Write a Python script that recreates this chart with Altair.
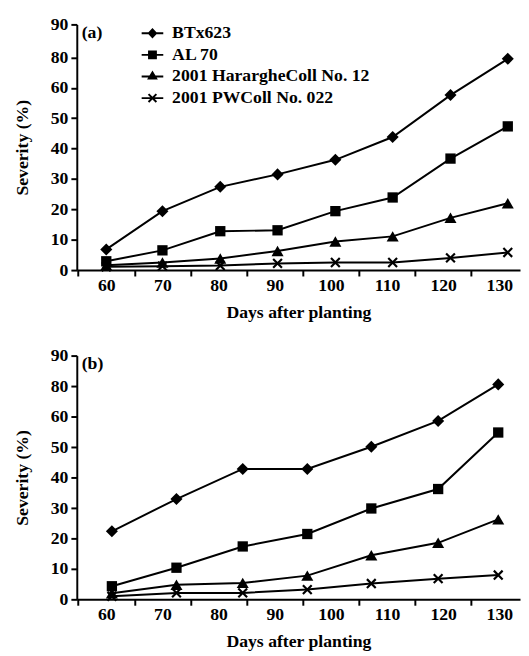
import altair as alt
import pandas as pd

# ---------------- data ----------------
series_names = ["BTx623", "AL 70", "2001 HarargheColl No. 12", "2001 PWColl No. 022"]

# panel (a)
days_a = [60, 70, 80.3, 90.5, 100.8, 111, 121.3, 131.5]
btx_a = [6.8, 19.4, 27.4, 31.5, 36.3, 43.8, 57.6, 79.0]
al_a = [2.9, 6.5, 12.8, 13.1, 19.4, 23.9, 36.7, 47.3]
har_a = [1.6, 2.5, 3.8, 6.3, 9.4, 11.1, 17.2, 22.0]
pw_a = [1.1, 1.3, 1.5, 2.2, 2.5, 2.5, 4.0, 5.8]

# panel (b)
days_b = [61, 72.5, 84.3, 95.8, 107.2, 119.1, 129.8]
btx_b = [22.4, 33.0, 42.9, 42.9, 50.2, 58.7, 80.7]
al_b = [4.3, 10.4, 17.4, 21.5, 29.9, 36.3, 54.9]
har_b = [2.0, 4.8, 5.4, 7.8, 14.5, 18.6, 26.3]
pw_b = [1.0, 2.1, 2.1, 3.2, 5.2, 6.8, 8.0]

x_labels = [60, 70, 80, 90, 100, 110, 120, 130]
y_labels = [0, 10, 20, 30, 40, 50, 60, 80, 90]


def make_df(days, vals_list):
    rows = []
    for name, vals in zip(series_names, vals_list):
        for d, v in zip(days, vals):
            rows.append({"series": name, "day": d, "severity": v})
    return pd.DataFrame(rows)


df_a = make_df(days_a, [btx_a, al_a, har_a, pw_a])
df_b = make_df(days_b, [btx_b, al_b, har_b, pw_b])

# ---------------- styling ----------------
FONT = "Liberation Serif"
W = 451
X_DOMAIN = [54.75, 133.68]
HALF = 5 * W / (X_DOMAIN[1] - X_DOMAIN[0])

point_shapes = ["diamond", "square", "triangle-up", "M-1,-1L1,1M-1,1L1,-1"]
point_sizes = [150, 110, 150, 80]

# legend glyphs: a short line with the marker on it (all filled paths)
LINE = "M-2.2,-0.2H2.2V0.2H-2.2Z"
legend_paths = [
    LINE + "M0,-1.05L1,0L0,1.05L-1,0Z",
    LINE + "M-0.9,-0.9H0.9V0.9H-0.9Z",
    LINE + "M0,-1.2L1.1,0.6H-1.1Z",
    LINE
    + "M-0.659,-0.941L0.941,0.659L0.659,0.941L-0.941,-0.659Z"
    + "M-0.941,0.659L0.659,-0.941L0.941,-0.659L-0.659,0.941Z",
]


def panel(df, H, f60, f80, tag, show_legend):
    x = alt.X(
        "day:Q",
        scale=alt.Scale(domain=X_DOMAIN, nice=False, zero=False),
        axis=alt.Axis(
            values=x_labels,
            title="Days after planting",
            tickOffset=-HALF,
            labelOffset=HALF,
            labelPadding=1,
            titlePadding=9,
        ),
    )
    y = alt.Y(
        "severity:Q",
        scale=alt.Scale(
            domain=[0, 60, 80, 90],
            range=[H, H * (1 - f60), H * (1 - f80), 0],
            nice=False,
            zero=False,
        ),
        axis=alt.Axis(values=y_labels, title="Severity (%)", labelPadding=3, titlePadding=19),
    )
    base = alt.Chart(df)
    layers = [
        base.mark_line(color="black", strokeWidth=2).encode(x=x, y=y, detail="series:N")
    ]
    for name, shp, sz in zip(series_names, point_shapes, point_sizes):
        if shp.startswith("M"):
            m = dict(shape=shp, size=sz, filled=False, color="black", strokeWidth=2.2, opacity=1)
        else:
            m = dict(shape=shp, size=sz, filled=True, color="black", opacity=1)
        layers.append(
            base.transform_filter(alt.datum.series == name).mark_point(**m).encode(x=x, y=y)
        )
    layers.append(
        alt.Chart(pd.DataFrame({"t": [tag]}))
        .mark_text(font=FONT, fontSize=18, fontWeight="bold", align="left", baseline="middle", color="black")
        .encode(text="t:N", x=alt.value(5), y=alt.value(9))
    )
    if show_legend:
        layers.append(
            base.transform_filter("false")
            .mark_point(filled=True, color="black", opacity=1)
            .encode(
                x=x,
                y=y,
                shape=alt.Shape(
                    "series:N",
                    scale=alt.Scale(domain=series_names, range=legend_paths),
                    legend=alt.Legend(
                        title=None,
                        orient="none",
                        legendX=68,
                        legendY=0,
                        padding=0,
                        rowPadding=4,
                        labelOffset=11,
                        labelLimit=400,
                        labelFont=FONT,
                        labelFontSize=18,
                        labelFontWeight="bold",
                        labelColor="black",
                        symbolSize=100,
                        symbolFillColor="black",
                        symbolOpacity=1,
                    ),
                ),
            )
        )
    return alt.layer(*layers).properties(width=W, height=H)


chart = (
    alt.vconcat(
        panel(df_a, 250, 0.742, 0.866, "(a)", True),
        panel(df_b, 248, 0.748, 0.873, "(b)", False),
        spacing=24,
    )
    .properties(padding={"left": 5, "top": 1, "right": 0, "bottom": 0})
    .configure_view(stroke="transparent")
    .configure_axis(
        grid=False,
        domainColor="black",
        domainWidth=2,
        tickColor="black",
        tickWidth=2,
        tickSize=6,
        labelFont=FONT,
        labelFontSize=18,
        labelFontWeight="bold",
        labelColor="black",
        titleFont=FONT,
        titleFontSize=18,
        titleFontWeight="bold",
        titleColor="black",
    )
)

chart.save("out.html", embed_options={"renderer": "svg", "actions": False})
